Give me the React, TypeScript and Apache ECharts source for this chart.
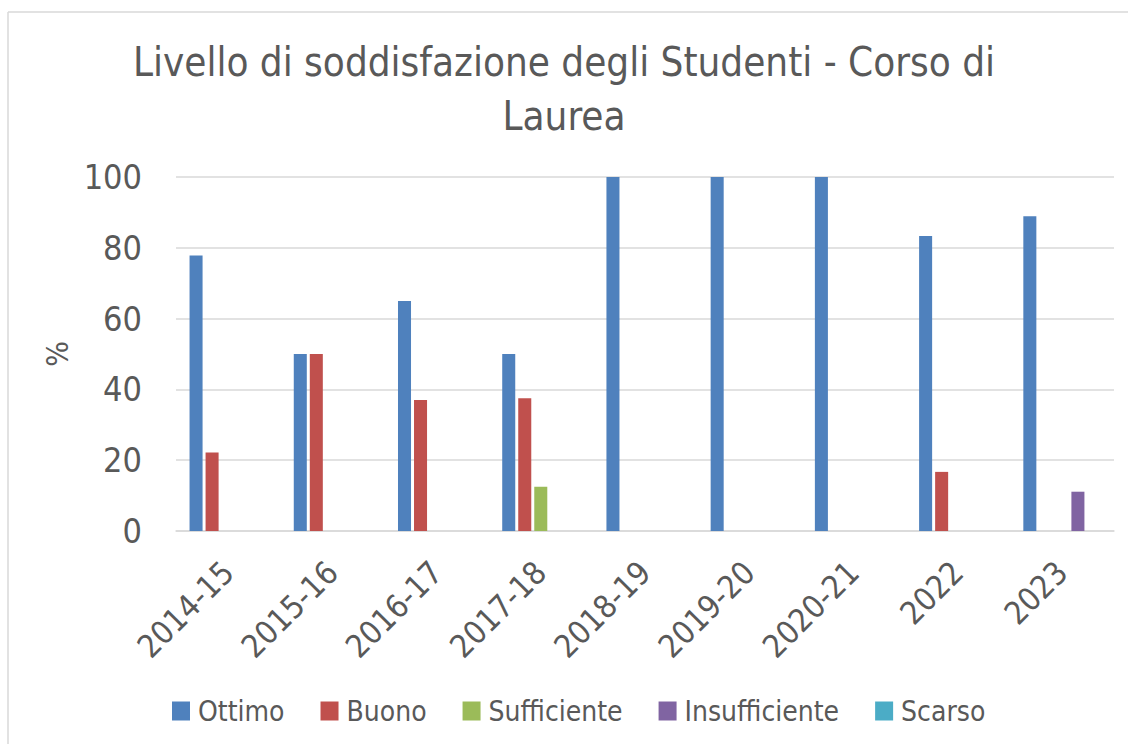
import React, { useEffect, useRef } from "react";
import * as echarts from "echarts";

const categories = ["2014-15", "2015-16", "2016-17", "2017-18", "2018-19", "2019-20", "2020-21", "2022", "2023"];
const ottimo = [77.8, 50, 65, 50, 100, 100, 100, 83.3, 88.9];
const buono = [22.2, 50, 37, 37.5, 0, 0, 0, 16.7, 0];
const sufficiente = [0, 0, 0, 12.5, 0, 0, 0, 0, 0];
const insufficiente = [0, 0, 0, 0, 0, 0, 0, 0, 11.1];
const scarso = [0, 0, 0, 0, 0, 0, 0, 0, 0];
const seriesNames = ["Ottimo", "Buono", "Sufficiente", "Insufficiente", "Scarso"];
const seriesColors = ["#4F81BD", "#C0504D", "#9BBB59", "#8064A2", "#4BACC6"];
const yTicks = { min: 0, max: 100, interval: 20 };
const titleText = "Livello di soddisfazione degli Studenti - Corso di\nLaurea";

const FONT = "'Liberation Sans Narrow', 'DejaVu Sans Condensed', 'Open Sans', sans-serif";

export default function App() {
  const ref = useRef<HTMLDivElement>(null);
  useEffect(() => {
    if (!ref.current) return;
    const chart = echarts.init(ref.current, null, { renderer: "svg" });
    const values = [ottimo, buono, sufficiente, insufficiente, scarso];
    chart.setOption({
      animation: false,
      backgroundColor: "#ffffff",
      textStyle: { fontFamily: FONT },
      title: {
        text: titleText,
        left: "center",
        top: 30,
        textStyle: { fontFamily: FONT, fontSize: 40, fontWeight: "normal", color: "#595959", lineHeight: 54 },
      },
      legend: {
        bottom: 14,
        left: 167,
        itemWidth: 18,
        itemHeight: 19,
        itemGap: 36,
        icon: "rect",
        textStyle: { fontFamily: FONT, fontSize: 28, color: "#595959", padding: [0, 0, 0, 3] },
        data: seriesNames,
      },
      grid: { left: 176, right: 14, top: 177, bottom: 213, containLabel: false },
      xAxis: {
        type: "category",
        data: categories,
        axisLine: { lineStyle: { color: "#D9D9D9", width: 1.5 } },
        axisTick: { show: false },
        axisLabel: { rotate: 45, fontSize: 32, color: "#595959", margin: 36, fontFamily: FONT, interval: 0 },
      },
      yAxis: {
        type: "value",
        min: yTicks.min,
        max: yTicks.max,
        interval: yTicks.interval,
        name: "%",
        nameLocation: "middle",
        nameRotate: 90,
        nameGap: 102,
        nameTextStyle: { fontSize: 30, color: "#595959", fontFamily: FONT },
        axisLine: { show: false },
        axisTick: { show: false },
        axisLabel: { fontSize: 34, color: "#595959", margin: 34, fontFamily: FONT },
        splitLine: { lineStyle: { color: "#D9D9D9", width: 1.5 } },
      },
      series: seriesNames.map((name, i) => ({
        name,
        type: "bar",
        data: values[i],
        barCategoryGap: "26%",
        barGap: "23%",
        itemStyle: { color: seriesColors[i] },
      })),
      graphic: [
        { type: "line", shape: { x1: 8, y1: 12, x2: 1128, y2: 12 }, style: { stroke: "#D9D9D9", lineWidth: 1.5 } },
        { type: "line", shape: { x1: 8, y1: 12, x2: 8, y2: 744 }, style: { stroke: "#D9D9D9", lineWidth: 1.5 } },
      ],
    });
    return () => chart.dispose();
  }, []);
  return <div ref={ref} style={{ position: "fixed", left: 0, top: 0, width: 1128, height: 744 }} />;
}
